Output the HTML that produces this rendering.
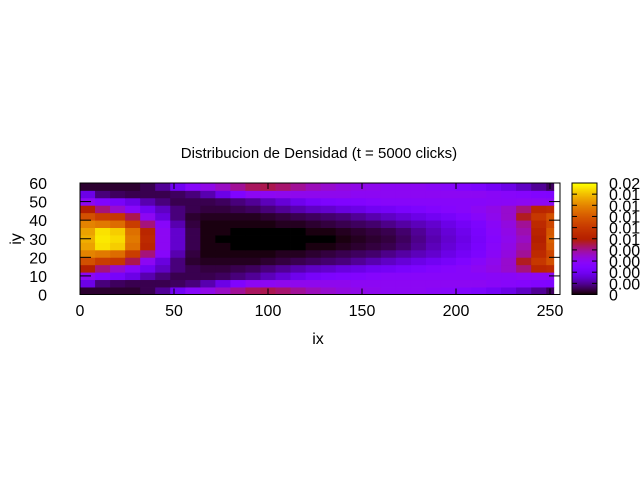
<!DOCTYPE html>
<html><head><meta charset="utf-8"><style>
body{margin:0;background:#fff;}
svg{display:block;font-family:"Liberation Sans",sans-serif;}
</style></head><body>
<svg id="chart" width="640" height="480" viewBox="0 0 640 480">
<rect width="640" height="480" fill="#fff"/>
<text x="319" y="158" font-size="15" text-anchor="middle">Distribucion de Densidad (t = 5000 clicks)</text>
<g id="cells"></g>
<g id="axes"></g>
<g id="cbar"></g>
<text x="318" y="344" font-size="16" text-anchor="middle">ix</text>
<text transform="translate(21,239) rotate(-90)" font-size="16" text-anchor="middle">iy</text>
</svg>
<script>
const xTicks=[0,50,100,150,200,250];
const yTicks=[0,10,20,30,40,50,60];
const cbTicks=["0","0.002","0.004","0.006","0.008","0.01","0.012","0.014","0.016","0.018","0.02"];
const cellW=8, cellH=4, xMaxData=252, zMax=0.02, zScale=0.02;
const R7=[0.88,0.97,0.95,0.78,0.55,0.3,0.15,0.05,0.01,0,0,0,0,0,0,0,0,0.01,0.02,0.03,0.04,0.06,0.09,0.12,0.15,0.18,0.22,0.27,0.31,0.36,0.5,0.72];
const R8=[0.86,0.96,0.93,0.76,0.53,0.3,0.15,0.05,0.01,0.01,0,0,0,0,0,0.01,0.01,0.02,0.03,0.04,0.05,0.07,0.1,0.13,0.16,0.19,0.23,0.28,0.32,0.38,0.52,0.7];
const R9=[0.8,0.78,0.75,0.62,0.42,0.28,0.12,0.04,0.01,0.01,0.01,0.01,0.01,0.02,0.02,0.03,0.04,0.05,0.06,0.07,0.09,0.11,0.13,0.15,0.18,0.21,0.24,0.29,0.33,0.4,0.55,0.65];
const R10=[0.68,0.62,0.6,0.45,0.3,0.17,0.08,0.03,0.02,0.02,0.02,0.02,0.03,0.04,0.05,0.06,0.07,0.08,0.1,0.12,0.14,0.16,0.18,0.2,0.22,0.25,0.28,0.31,0.35,0.48,0.6,0.68];
const R11=[0.5,0.42,0.35,0.28,0.2,0.14,0.08,0.05,0.04,0.04,0.05,0.06,0.08,0.1,0.12,0.14,0.15,0.17,0.18,0.2,0.21,0.23,0.24,0.26,0.27,0.28,0.3,0.32,0.35,0.42,0.53,0.55];
const R12=[0.3,0.25,0.22,0.18,0.12,0.08,0.05,0.05,0.05,0.06,0.08,0.1,0.13,0.16,0.19,0.22,0.24,0.25,0.26,0.27,0.28,0.28,0.28,0.28,0.28,0.28,0.28,0.29,0.29,0.3,0.3,0.3];
const R13=[0.18,0.08,0.06,0.05,0.05,0.05,0.06,0.08,0.12,0.18,0.25,0.3,0.3,0.31,0.31,0.31,0.31,0.31,0.3,0.3,0.3,0.3,0.3,0.3,0.3,0.3,0.3,0.29,0.28,0.27,0.26,0.25];
const R14=[0.03,0.03,0.03,0.03,0.05,0.1,0.2,0.28,0.32,0.36,0.4,0.44,0.45,0.43,0.4,0.37,0.35,0.33,0.32,0.31,0.3,0.3,0.3,0.29,0.28,0.26,0.24,0.21,0.18,0.14,0.1,0.06];
const rowsData=[R14,R13,R12,R11,R10,R9,R8,R7,R8,R9,R10,R11,R12,R13,R14];

const NS="http://www.w3.org/2000/svg";
const X0=80,X1=560,Y0=294.5,Y1=183;
const xScale=v=>X0+v*(550-80)/250;
const yScale=v=>Y0+(Y1-Y0)*v/60;
function mk(tag,attrs,parent){const e=document.createElementNS(NS,tag);for(const k in attrs)e.setAttribute(k,attrs[k]);parent.appendChild(e);return e;}
function pal(g){g=Math.max(0,Math.min(1,g));const r=Math.sqrt(g),gg=g*g*g,b=Math.max(0,Math.sin(2*Math.PI*g));return `rgb(${Math.round(r*255)},${Math.round(gg*255)},${Math.round(b*255)})`;}

const cells=document.getElementById('cells');
rowsData.forEach((row,j)=>{row.forEach((f,i)=>{
  const v=f*zScale;
  const x0=i*cellW,x1=Math.min((i+1)*cellW,xMaxData);
  const r=mk('rect',{x:xScale(x0),y:yScale((j+1)*cellH),width:xScale(x1)-xScale(x0)+0.4,height:yScale(j*cellH)-yScale((j+1)*cellH)+0.4,fill:pal(v/zMax)},cells);
  
  
});});

const axes=document.getElementById('axes');
const border=mk('rect',{x:X0,y:Y1,width:X1-X0,height:Y0-Y1,fill:'none',stroke:'#000','stroke-width':1},axes);


xTicks.forEach(t=>{const x=xScale(t);
  mk('line',{x1:x,y1:Y0,x2:x,y2:Y0-6,stroke:'#000'},axes);mk('line',{x1:x,y1:Y1,x2:x,y2:Y1+6,stroke:'#000'},axes);
  const l=mk('text',{x:x,y:316,'font-size':16,'text-anchor':'middle'},axes);l.textContent=t;
  
  
});
yTicks.forEach(t=>{const y=yScale(t);
  mk('line',{x1:X0,y1:y,x2:X0+11,y2:y,stroke:'#000'},axes);mk('line',{x1:X1,y1:y,x2:X1-11,y2:y,stroke:'#000'},axes);
  const l=mk('text',{x:47,y:y+6,'font-size':16,'text-anchor':'end'},axes);l.textContent=t;
  
  
});

const cb=document.getElementById('cbar');
const CX0=572,CX1=597;
for(let k=0;k<112;k++){const g=k/111;const y=Y0-(Y0-Y1)*(k+1)/112;
  const r=mk('rect',{x:CX0,y:y,width:CX1-CX0,height:(Y0-Y1)/112+0.5,fill:pal(g)},cb);
  
  
}
mk('rect',{x:CX0,y:Y1,width:CX1-CX0,height:Y0-Y1,fill:'none',stroke:'#000'},cb);
cbTicks.forEach((t,i)=>{const y=Y0-(Y0-Y1)*i/(cbTicks.length-1);
  mk('line',{x1:CX0,y1:y,x2:CX0+5,y2:y,stroke:'#000'},cb);mk('line',{x1:CX1,y1:y,x2:CX1-5,y2:y,stroke:'#000'},cb);
  const l=mk('text',{x:609,y:y+6,'font-size':16},cb);l.textContent=t;
  
  
});
</script>
</body></html>
